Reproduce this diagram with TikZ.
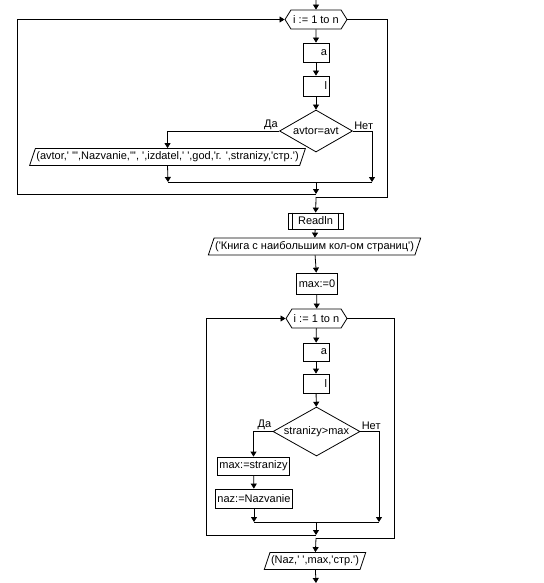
\documentclass[tikz,border=0pt]{standalone}
\usepackage{fontspec}
\setmainfont{Liberation Sans}[Ligatures=TeXOff]
\usetikzlibrary{shapes.geometric,shapes.symbols,arrows.meta}
\tikzset{
  every node/.style={font=\fontsize{11}{13}\selectfont},
  blk/.style={draw, rectangle, inner xsep=2pt, inner ysep=1pt},
  io/.style={draw, trapezium, trapezium left angle=65, trapezium right angle=115, trapezium stretches body=true, inner xsep=1pt, inner ysep=1pt, minimum height=17pt},
  cyc/.style={draw, signal, signal to=east and west, signal pointer angle=116, minimum height=19pt, inner xsep=1pt, inner ysep=0pt},
  cond/.style={draw, diamond, inner sep=0pt},
  lbl/.style={inner sep=1pt},
  arr/.style={-{Triangle[length=5pt,width=6pt]}},
}
\begin{document}
\begin{tikzpicture}[x=1pt,y=-1pt,line width=0.8pt]
\useasboundingbox (0,0) rectangle (543,583);
% first loop
\coordinate (top) at (316,0);
\node[cyc, minimum width=62pt] (c1) at (316,19.5) {i := 1 to n};
\node[blk, text width=22pt, align=right, minimum height=19pt] (a1) at (316,52.5) {a};
\node[blk, text width=22pt, align=right, minimum height=20pt] (l1) at (316,86) {l};
\node[cond, aspect=1.74, minimum width=73pt, minimum height=42pt] (d1) at (316,131) {avtor=avt};
\node[io] (o1) at (167.5,157) {(avtor,' '",Nazvanie,"', ',izdatel,' ',god,'г. ',stranizy,'стр.')};
\node[lbl, above left] (yes1) at (d1.west) {Да};
\node[lbl, above right] (no1) at (d1.east) {Нет};
\coordinate (jl1) at (168,182);
\coordinate (jr1) at (372,182);
\coordinate (j1) at (316,182);
\coordinate (b1) at (316,194);
\coordinate (lb1) at (17,194);
\coordinate (rb1) at (387,197);
\coordinate (e1) at (316,197);
\draw[arr] (top) -- (c1);
\draw[arr] (c1) -- (a1);
\draw[arr] (a1) -- (l1);
\draw[arr] (l1) -- (d1);
\draw[arr] (d1.west) -| (o1.north);
\draw[arr] (o1.south) -- (jl1);
\draw[arr] (d1.east) -| (jr1);
\draw (jl1) -- (jr1);
\draw[arr] (j1) -- (b1);
\draw[arr] (b1) -- (lb1) |- (c1.west);
\draw (c1.east) -| (rb1) -- (e1);
% after the loop
\node[blk, minimum width=55pt, minimum height=16pt] (rd) at (315.5,221) {Readln};
\draw ([xshift=5pt]rd.north west) -- ([xshift=5pt]rd.south west);
\draw ([xshift=-5pt]rd.north east) -- ([xshift=-5pt]rd.south east);
\node[io] (o2) at (314.5,246.5) {('Книга с наибольшим кол-ом страниц')};
\node[blk, minimum height=21pt] (m0) at (317,283.5) {max:=0};
\draw[arr] (e1) -- (rd);
\draw[arr] (rd) -- (o2);
\draw[arr] (o2) -- (m0);
% second loop
\node[cyc, minimum width=61pt] (c2) at (316.5,318.5) {i := 1 to n};
\node[blk, text width=22pt, align=right, minimum height=18pt] (a2) at (316,352) {a};
\node[blk, text width=22pt, align=right, minimum height=19pt] (l2) at (316,383.5) {l};
\node[cond, aspect=1.78, minimum width=87pt, minimum height=49pt] (d2) at (316.5,431.5) {stranizy>max};
\node[lbl, above left] (yes2) at (d2.west) {Да};
\node[lbl, above right] (no2) at (d2.east) {Нет};
\node[blk, minimum height=18pt] (ms) at (253.5,466) {max:=stranizy};
\node[blk, minimum height=19pt] (nz) at (254,498.5) {naz:=Nazvanie};
\coordinate (jl2) at (254,522);
\coordinate (jr2) at (379,522);
\coordinate (j2) at (316,522);
\coordinate (b2) at (316,535);
\coordinate (lb2) at (206,535);
\coordinate (rb2) at (394,538);
\coordinate (e2) at (316,538);
\draw[arr] (m0) -- (c2);
\draw[arr] (c2) -- (a2);
\draw[arr] (a2) -- (l2);
\draw[arr] (l2) -- (d2);
\draw[arr] (d2.west) -| (ms.north);
\draw[arr] (ms) -- (nz);
\draw[arr] (nz.south) -- (jl2);
\draw[arr] (d2.east) -| (jr2);
\draw (jl2) -- (jr2);
\draw[arr] (j2) -- (b2);
\draw[arr] (b2) -- (lb2) |- (c2.west);
\draw (c2.east) -| (rb2) -- (e2);
% output
\node[io] (o3) at (315,561) {(Naz,' ',max,'стр.')};
\coordinate (bot) at (316,583);
\draw[arr] (e2) -- (o3);
\draw[arr] (o3) -- (bot);
\end{tikzpicture}
\end{document}
